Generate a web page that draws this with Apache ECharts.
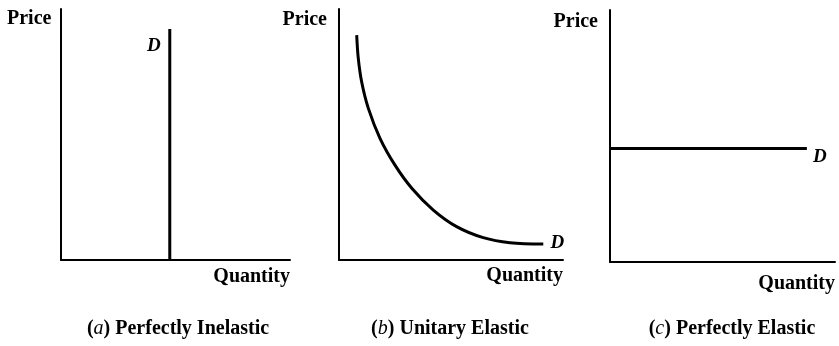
<!DOCTYPE html>
<html>
<head>
<meta charset="utf-8">
<script src="https://cdn.jsdelivr.net/npm/echarts@6/dist/echarts.min.js"></script>
<style>
  html, body { margin: 0; padding: 0; background: #fff; }
  #chart { width: 839px; height: 346px; }
</style>
</head>
<body>
<div id="chart"></div>
<script>
// Axis titles and curve name
const priceLabel = 'Price';
const quantityLabel = 'Quantity';
const curveName = 'D';
const panelLetters = ['a', 'b', 'c'];
const panelTitles = ['Perfectly Inelastic', 'Unitary Elastic', 'Perfectly Elastic'];

// (a) vertical demand: quantity fixed regardless of price
const inelasticQ = [4.75, 4.75];
const inelasticP = [0, 9.2];

// (b) unit-elastic demand: rectangular-hyperbola-like curve
const unitaryQ = [0.79, 0.86, 1.01, 1.31, 1.83, 2.50, 3.25, 4.21, 5.25, 6.44, 7.63, 9.12];
const unitaryP = [8.96, 8.04, 7.10, 6.04, 4.85, 3.78, 2.86, 1.99, 1.33, 0.89, 0.69, 0.64];

// (c) horizontal demand: price fixed regardless of quantity
const elasticQ = [0, 8.75];
const elasticP = [4.5, 4.5];

const FONT = '"Liberation Serif", "Times New Roman", serif';
const INK = '#000';

const zip = (xs, ys) => xs.map((x, i) => [x, ys[i]]);

const grids = [
  { left: 61, top: 9, width: 229, height: 251 },
  { left: 339, top: 9, width: 224, height: 251 },
  { left: 610, top: 10, width: 225, height: 252 }
];

const axisBase = {
  type: 'value', min: 0, max: 10,
  axisLine: { show: true, onZero: false, lineStyle: { color: INK, width: 2 } },
  axisTick: { show: false },
  axisLabel: { show: false },
  splitLine: { show: false }
};

const lineStyle = { color: INK, width: 3, cap: 'butt' };

const curves = [zip(inelasticQ, inelasticP), zip(unitaryQ, unitaryP), zip(elasticQ, elasticP)];

const chart = echarts.init(document.getElementById('chart'), null, { renderer: 'canvas' });

chart.setOption({
  animation: false,
  backgroundColor: '#fff',
  grid: grids.map(g => Object.assign({ containLabel: false }, g)),
  xAxis: grids.map((g, i) => Object.assign({ gridIndex: i }, axisBase)),
  yAxis: grids.map((g, i) => Object.assign({ gridIndex: i }, axisBase)),
  series: curves.map((data, i) => ({
    type: 'line',
    xAxisIndex: i,
    yAxisIndex: i,
    data: data,
    smooth: i === 1 ? 0.35 : false,
    symbol: 'none',
    lineStyle: lineStyle,
    silent: true
  }))
});

// Text elements
const textStyle = (extra) => Object.assign({
  fill: INK,
  font: 'bold 20px ' + FONT
}, extra);

const graphics = [];

// "Price" titles beside each vertical axis
const priceSpots = [
  { x: 7, y: 19, align: 'left' },
  { x: 327, y: 20, align: 'right' },
  { x: 598, y: 22, align: 'right' }
];
priceSpots.forEach(p => graphics.push({
  type: 'text', x: p.x, y: p.y,
  style: textStyle({ text: priceLabel, align: p.align, verticalAlign: 'middle' })
}));

// "Quantity" titles under each horizontal axis, right-aligned to the axis end
const quantityY = [277, 276, 284];
grids.forEach((g, i) => graphics.push({
  type: 'text', x: g.left + g.width, y: quantityY[i],
  style: textStyle({ text: quantityLabel, align: 'right', verticalAlign: 'middle' })
}));

// Panel captions
const captionX = [178, 450, 732];
panelLetters.forEach((letter, i) => graphics.push({
  type: 'text', x: captionX[i], y: 329,
  style: textStyle({
    text: '(' + '{it|' + letter + '}) ' + panelTitles[i],
    align: 'center', verticalAlign: 'middle',
    rich: { it: { font: 'italic 20px ' + FONT, fill: INK } }
  })
}));

// "D" tags placed next to the end of each demand line
const tagOffsets = [[-16, 17], [14, -1], [13, 8]];
const tagPoints = [curves[0][curves[0].length - 1], curves[1][curves[1].length - 1], curves[2][curves[2].length - 1]];
tagPoints.forEach((pt, i) => {
  const px = chart.convertToPixel({ gridIndex: i }, pt);
  graphics.push({
    type: 'text', x: px[0] + tagOffsets[i][0], y: px[1] + tagOffsets[i][1],
    style: textStyle({ text: curveName, align: 'center', verticalAlign: 'middle', font: 'italic bold 19px ' + FONT })
  });
});

chart.setOption({ graphic: graphics });
</script>
</body>
</html>
